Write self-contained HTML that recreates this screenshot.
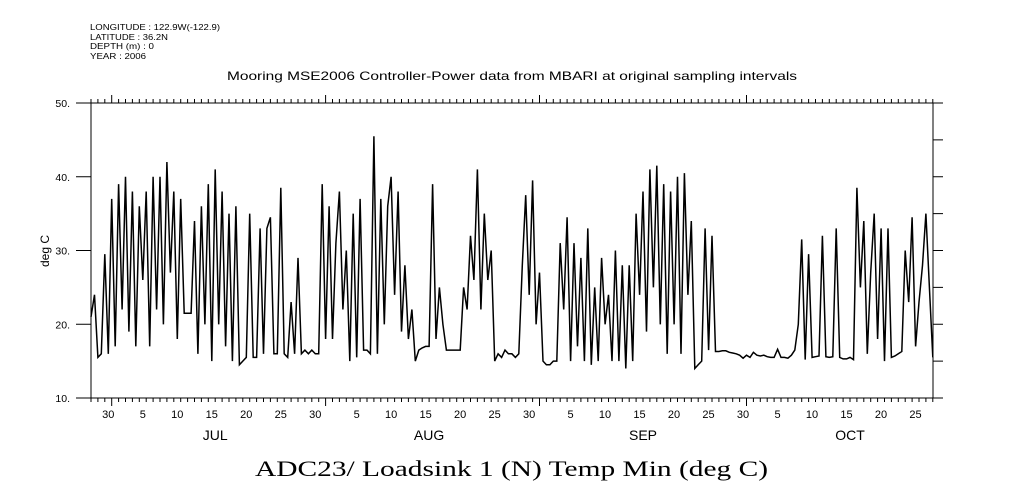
<!DOCTYPE html>
<html><head><meta charset="utf-8"><style>
html,body{margin:0;padding:0;background:#fff;}
svg{display:block;font-family:"Liberation Sans",sans-serif;}
</style></head><body>
<svg id="chart" width="1009" height="504" viewBox="0 0 1009 504">
<g font-size="8.5" fill="#000">
<text x="90" y="30" textLength="130" lengthAdjust="spacingAndGlyphs">LONGITUDE : 122.9W(-122.9)</text>
<text x="90" y="40" textLength="78" lengthAdjust="spacingAndGlyphs">LATITUDE : 36.2N</text>
<text x="90" y="49" textLength="64" lengthAdjust="spacingAndGlyphs">DEPTH (m) : 0</text>
<text x="90" y="59" textLength="56" lengthAdjust="spacingAndGlyphs">YEAR : 2006</text>
</g>
<text x="227" y="80" textLength="570" lengthAdjust="spacingAndGlyphs" font-size="12">Mooring MSE2006 Controller-Power data from MBARI at original sampling intervals</text>
<text x="255" y="476" textLength="513" lengthAdjust="spacingAndGlyphs" font-size="22" font-family="Liberation Serif, serif">ADC23/ Loadsink 1 (N) Temp Min (deg C)</text>
<text transform="translate(49,251) rotate(-90)" text-anchor="middle" font-size="12">deg C</text>
<rect x="91" y="103" width="842" height="295" fill="none" stroke="#000" stroke-width="1"/>
<g id="axes"></g>
<path id="series" fill="none" stroke="#000" stroke-width="1.5"/>
</svg>
<script>
// data: temperature values at half-day steps starting 28 Jun (day -3 from 1 Jul)
const startDay = -3;
const stepDays = 0.5;
const temps = [21,24,15.5,16,29.5,16,37,17,39,22,40,19,38,17,36,26,38,17,40,22,40,20,42,27,38,18,37,21.5,21.5,21.5,34,16,36,20,39,15,41,20,38,17,35,15,36,14.5,15,15.5,35,15.5,15.5,33,16,33,34.5,16,16,38.5,16,15.5,23,16,29,16,16.5,16,16.5,16,16,
39,18,36,18,31,38,22,30,15,35,15.5,37,16.5,16.5,16,45.5,16,37,20,36,40,24,38,19,28,18,22,15,16.5,16.8,17,17,39,18,25,20,16.5,16.5,16.5,16.5,16.5,25,22,32,26,41,22,35,26,30,15,16,15.5,16.5,16,16,15.5,
16,28,37.5,24,39.5,20,27,15,14.5,14.5,15,15,31,22,34.5,15,31,17,29,15,33,14.5,25,15,29,20,24,15,30,15,28,14,28,15,35,24,38,19,41,25,41.5,20,39,16,38,20,40,16,40.5,24,34,14,14.5,15,33,16.5,32,16.3,16.3,16.4,16.4,16.2,16.1,16,15.8,15.4,15.8,15.5,16.2,15.8,15.7,15.8,15.6,15.5,15.5,16.6,15.5,15.5,15.4,15.8,16.5,20,31.5,15.2,29.5,15.5,15.6,15.7,32,15.6,15.5,15.6,33,15.5,15.3,15.3,15.5,15.2,38.5,25,34,16,27,35,18,33,15,33,15.5,15.7,16,16.3,30,23,34.5,17,23,28,35,25,15.5];
const yTicks = [10,20,30,40,50];
const dayTickLabels = ["30","5","10","15","20","25","30","5","10","15","20","25","30","5","10","15","20","25","30","5","10","15","20","25"];
const dayTickDays = [-1,4,9,14,19,24,29,35,40,45,50,55,60,66,71,76,81,86,91,96,101,106,111,116];
const monthLabels = ["JUL","AUG","SEP","OCT"];
const monthLabelDays = [15,46,77,107];
const monthStartDays = [0,31,62,92];

const X0=111.7, PXD=6.9, dayMin=-3, dayMax=119;
const xs = d => X0 + PXD*d;
const ys = v => 398 - (v-10)*(295/40);
const NS="http://www.w3.org/2000/svg";
const ax=document.getElementById('axes');
function mk(tag, attrs){const e=document.createElementNS(NS,tag);for(const k in attrs)e.setAttribute(k,attrs[k]);ax.appendChild(e);return e;}

yTicks.forEach(v=>{
  const y=ys(v);
  const t=mk('line',{x1:76,x2:91,y1:y,y2:y,stroke:'#000'});
  
  
  const l=mk('text',{x:70,y:y+4,'text-anchor':'end','font-size':'10.5'});
  l.textContent=v+'.';
  
  
});
for(let v=10;v<=50;v+=5){
  const y=ys(v);
  const t=mk('line',{x1:933,x2:943,y1:y,y2:y,stroke:'#000'});
  
  
}
for(let d=Math.ceil(dayMin);d<=dayMax;d++){
  const x=xs(d); if(x<91||x>933) continue;
  const major=monthStartDays.includes(d);
  const len=major?8:4;
  const b=mk('line',{x1:x,x2:x,y1:398,y2:398+len,stroke:'#000'});
  
  
  const t=mk('line',{x1:x,x2:x,y1:103,y2:103-len,stroke:'#000'});
  
  
}
dayTickLabels.forEach((s,i)=>{
  const l=mk('text',{x:xs(dayTickDays[i]+0.5),y:418,'text-anchor':'middle','font-size':'11'});
  l.textContent=s;
  
  
});
monthLabels.forEach((s,i)=>{
  const l=mk('text',{x:xs(monthLabelDays[i]),y:440,'text-anchor':'middle','font-size':'14'});
  l.textContent=s;
  
  
});
let d='';
temps.forEach((v,i)=>{const x=xs(startDay+i*stepDays);d+=(i?'L':'M')+x.toFixed(1)+' '+ys(v).toFixed(1);});
document.getElementById('series').setAttribute('d',d);
</script>
</body></html>
